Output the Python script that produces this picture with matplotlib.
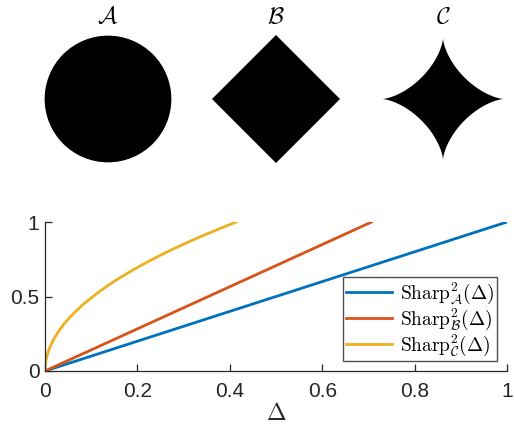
import numpy as np
import matplotlib
matplotlib.use('Agg')
import matplotlib.pyplot as plt
from matplotlib.patches import Circle, Polygon

plt.rcParams['font.family'] = ['Liberation Sans', 'DejaVu Sans']
plt.rcParams['mathtext.fontset'] = 'cm'

# curves
delta_A = [0, 1.0]
sharp_A = [0, 1.0]
delta_B = [0, 0.707]
sharp_B = [0, 1.0]
delta_C = [0, 0.0001, 0.0005, 0.001, 0.002, 0.004, 0.007, 0.01, 0.015, 0.02, 0.03, 0.04,
           0.05, 0.065, 0.08, 0.1, 0.12, 0.14, 0.16, 0.18, 0.2, 0.225, 0.25, 0.275,
           0.3, 0.325, 0.35, 0.38, 0.414]
sharp_C = [0, 0.016, 0.035, 0.049, 0.07, 0.098, 0.13, 0.155, 0.19, 0.22, 0.269, 0.311,
           0.348, 0.396, 0.44, 0.491, 0.538, 0.582, 0.622, 0.659, 0.695, 0.737, 0.777,
           0.815, 0.851, 0.886, 0.919, 0.958, 1.0]

shape_names = [r'$\mathcal{A}$', r'$\mathcal{B}$', r'$\mathcal{C}$']
colors = ['#0072BD', '#D95319', '#EDB120']
labels = [r'$\mathrm{Sharp}^2_{\mathcal{A}}(\Delta)$',
          r'$\mathrm{Sharp}^2_{\mathcal{B}}(\Delta)$',
          r'$\mathrm{Sharp}^2_{\mathcal{C}}(\Delta)$']

W, H = 514, 425
fig = plt.figure(figsize=(W / 100, H / 100), dpi=100)

# unit balls on top
centers = [108, 276, 443]
r = 64
t = np.linspace(0, 2 * np.pi, 400)
for i, cx in enumerate(centers):
    ax = fig.add_axes([(cx - r) / W, 1 - (99 + r) / H, 2 * r / W, 2 * r / H])
    ax.set_xlim(-1, 1)
    ax.set_ylim(-1, 1)
    ax.axis('off')
    if i == 0:
        ax.add_patch(Circle((0, 0), 0.99, color='k', lw=0))
    elif i == 1:
        ax.add_patch(Polygon([[1, 0], [0, 1], [-1, 0], [0, -1]], closed=True, color='k', lw=0))
    else:
        s = 0.95
        ax.fill(s * np.cos(t) ** 3, s * np.sin(t) ** 3, color='k', lw=0)
    fig.text(cx / W, 1 - 17 / H, shape_names[i], fontsize=17, ha='center', va='center')

# curves
ax = fig.add_axes([45 / W, 1 - 371 / H, 462 / W, 149 / H])
ax.plot(delta_A, sharp_A, color=colors[0], lw=2.0, label=labels[0])
ax.plot(delta_B, sharp_B, color=colors[1], lw=2.0, label=labels[1])
ax.plot(delta_C, sharp_C, color=colors[2], lw=2.0, label=labels[2])
ax.set_xlim(0, 1)
ax.set_ylim(0, 1)
ax.set_xticks([0, 0.2, 0.4, 0.6, 0.8, 1])
ax.set_xticklabels(['0', '0.2', '0.4', '0.6', '0.8', '1'])
ax.set_yticks([0, 0.5, 1])
ax.set_yticklabels(['0', '0.5', '1'])
for sp in ['top', 'right']:
    ax.spines[sp].set_visible(False)
for sp in ['left', 'bottom']:
    ax.spines[sp].set_color('#262626')
    ax.spines[sp].set_linewidth(0.9)
ax.tick_params(direction='in', length=5, width=0.9, colors='#262626', labelsize=15)
ax.tick_params(axis='x', pad=8)
ax.tick_params(axis='y', pad=4)
ax.set_xlabel(r'$\Delta$', fontsize=17, color='#262626', labelpad=1)
leg = ax.legend(loc='lower right', fontsize=14, frameon=True, fancybox=False,
                edgecolor='#262626', borderaxespad=0.5, handlelength=2.4,
                borderpad=0.15, labelspacing=0.05, handletextpad=0.4)
leg.get_frame().set_linewidth(1.0)

fig.savefig('out.png', dpi=100)
